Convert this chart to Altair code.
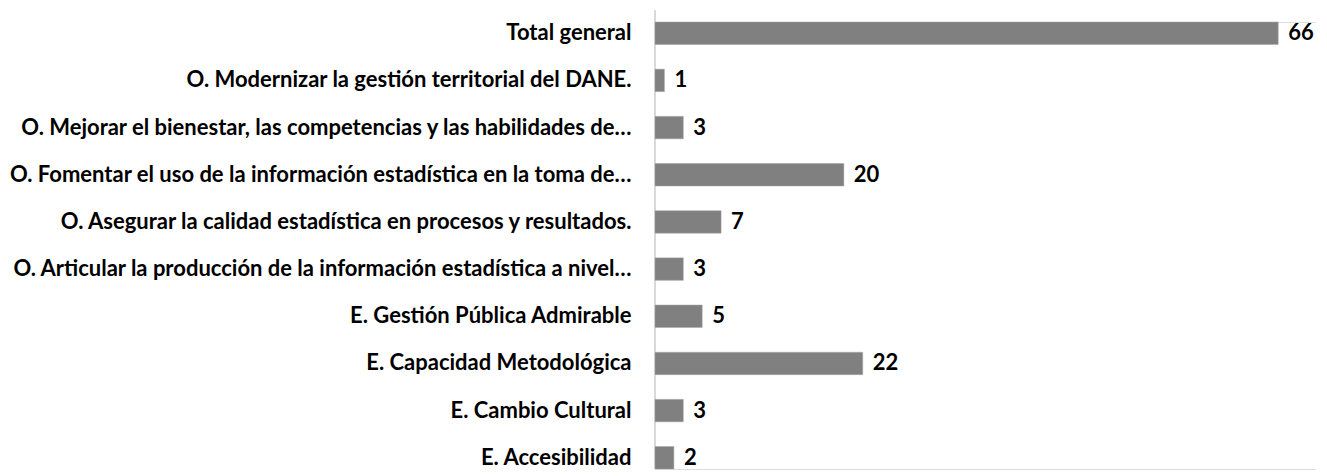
import altair as alt
import pandas as pd

categories = [
    "Total general",
    "O. Modernizar la gestión territorial del DANE.",
    "O. Mejorar el bienestar, las competencias y las habilidades de…",
    "O. Fomentar el uso de la información estadística en la toma de…",
    "O. Asegurar la calidad estadística en procesos y resultados.",
    "O. Articular la producción de la información estadística a nivel…",
    "E. Gestión Pública Admirable",
    "E. Capacidad Metodológica",
    "E. Cambio Cultural",
    "E. Accesibilidad",
]
values = [66, 1, 3, 20, 7, 3, 5, 22, 3, 2]

df = pd.DataFrame({"cat": categories, "val": values})

FONT = "Lato"
FS = 22
H = 447

y = alt.Y(
    "cat:N",
    sort=categories,
    title=None,
    scale=alt.Scale(paddingInner=0.5235, paddingOuter=0),
    axis=alt.Axis(
        labelFont=FONT,
        labelFontSize=FS,
        labelFontWeight="bold",
        labelColor="#000000",
        labelPadding=24,
        labelLimit=1000,
        ticks=False,
        grid=False,
        domain=False,
    ),
)
x = alt.X(
    "val:Q",
    title=None,
    scale=alt.Scale(domain=[0, 70], nice=False),
    axis=None,
)

axis_line = alt.Chart(df).mark_rule(color="#d9d9d9", strokeWidth=1.5).encode(
    x=alt.value(0), y=alt.value(-12), y2=alt.value(H)
)
bars = alt.Chart(df).mark_bar(color="#808080", stroke="#a6a6a6", strokeWidth=0.5).encode(x=x, y=y)
labels = alt.Chart(df).mark_text(
    align="left", baseline="middle", dx=10, font=FONT, fontSize=FS, fontWeight="bold", color="#000000"
).encode(x=x, y=y, text="val:Q")

chart = (
    alt.layer(axis_line, bars, labels)
    .properties(width=661, height=H, padding={"top": 1, "left": 0, "right": 0, "bottom": 0})
    .configure_view(stroke="transparent", strokeWidth=0)
    .configure_axis(grid=False)
    .configure(background="white")
)

chart.save("out.html", embed_options={"renderer": "svg", "actions": False})
